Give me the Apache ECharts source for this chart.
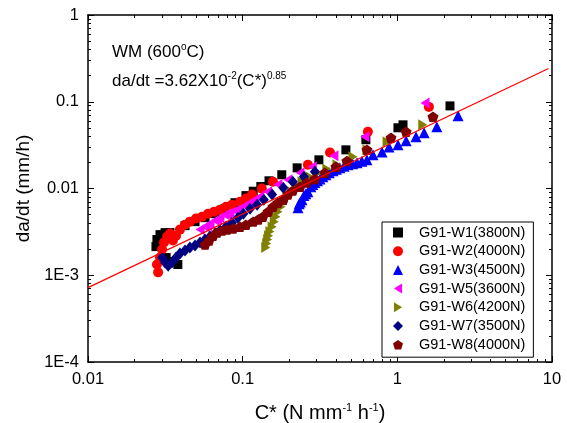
<!DOCTYPE html>
<html><head><meta charset="utf-8">
<script src="https://cdn.jsdelivr.net/npm/echarts@6/dist/echarts.min.js"></script>
<style>html,body{margin:0;padding:0;background:#fff}#c{width:567px;height:423px}</style>
</head><body><div id="c"></div>
<script>
// ---- data ----
const seriesNames = ['G91-W1(3800N)','G91-W2(4000N)','G91-W3(4500N)','G91-W5(3600N)','G91-W6(4200N)','G91-W7(3500N)','G91-W8(4000N)'];
const xMajor = [0.01, 0.1, 1, 10];
const xLabels = ['0.01', '0.1', '1', '10'];
const yMajor = [0.0001, 0.001, 0.01, 0.1, 1];
const yLabels = ['1E-4', '1E-3', '0.01', '0.1', '1'];

const w1 = [[0.0275,0.00214],[0.0279,0.00258],[0.0292,0.00294],[0.0315,0.00310],[0.0339,0.00310],[0.0320,0.00160],[0.0349,0.00144],[0.0381,0.00133],[0.0424,0.00373],[0.0492,0.00415],[0.0571,0.00461],[0.0663,0.00512],[0.0769,0.00585],[0.0892,0.00686],[0.105,0.00828],[0.117,0.0093],[0.131,0.01053],[0.148,0.01227],[0.179,0.0144],[0.225,0.0173],[0.311,0.0214],[0.465,0.0279],[0.626,0.0365],[1.009,0.0501],[1.088,0.0542],[2.19,0.0896]];
const w2 = [[0.0284,0.00108],[0.0279,0.00133],[0.0292,0.00160],[0.0301,0.00198],[0.0310,0.00238],[0.0325,0.00279],[0.0339,0.00302],[0.0354,0.00251],[0.0371,0.00286],[0.0393,0.00336],[0.0424,0.00383],[0.0456,0.00415],[0.0499,0.00450],[0.0546,0.00473],[0.0597,0.00512],[0.0653,0.00540],[0.0713,0.00570],[0.0781,0.00617],[0.0853,0.00651],[0.0961,0.00703],[0.105,0.00766],[0.115,0.0085],[0.133,0.00997],[0.157,0.0120],[0.264,0.0188],[0.367,0.0260],[0.645,0.0450],[1.60,0.0872]];
const w3 = [[0.228,0.00601],[0.232,0.00668],[0.236,0.0070],[0.242,0.00743],[0.249,0.00828],[0.256,0.0087],[0.264,0.0092],[0.276,0.0105],[0.284,0.0111],[0.293,0.0117],[0.304,0.0123],[0.316,0.0129],[0.330,0.0137],[0.345,0.0144],[0.363,0.0152],[0.384,0.0160],[0.404,0.0167],[0.425,0.0173],[0.452,0.0181],[0.480,0.0188],[0.514,0.0193],[0.549,0.0198],[0.590,0.0206],[0.636,0.0214],[0.696,0.0245],[0.796,0.0264],[0.883,0.0301],[1.01,0.0319],[1.14,0.0355],[1.32,0.0395],[1.49,0.0440],[1.80,0.0514],[2.47,0.0688]];
const w5 = [[0.0530,0.00336],[0.0571,0.00363],[0.0592,0.00372],[0.0615,0.00395],[0.0663,0.00427],[0.0688,0.00440],[0.0713,0.00461],[0.0769,0.00499],[0.0798,0.00505],[0.0828,0.00526],[0.0892,0.00555],[0.0925,0.00565],[0.0961,0.00585],[0.1035,0.00633],[0.1075,0.00655],[0.1115,0.00686],[0.120,0.00743],[0.129,0.00806],[0.145,0.0092],[0.169,0.0111],[0.196,0.0126],[0.235,0.0152],[0.282,0.0178],[0.389,0.0238],[0.617,0.0395],[1.51,0.0969]];
const w6 = [[0.141,0.00209],[0.143,0.00232],[0.145,0.00258],[0.147,0.00286],[0.150,0.00319],[0.155,0.00363],[0.160,0.00415],[0.164,0.00473],[0.169,0.00540],[0.177,0.00617],[0.185,0.00703],[0.196,0.00806],[0.208,0.0092],[0.225,0.0108],[0.242,0.0120],[0.272,0.0137],[0.306,0.0152],[0.350,0.0168],[0.407,0.0188],[0.516,0.0232],[0.636,0.0279],[0.858,0.0345],[1.46,0.0542]];
const w7 = [[0.0301,0.00160],[0.0315,0.00140],[0.0330,0.00129],[0.0349,0.00140],[0.0371,0.00160],[0.0393,0.00178],[0.0424,0.00193],[0.0456,0.00209],[0.0492,0.00220],[0.0530,0.00238],[0.0571,0.00258],[0.0615,0.00279],[0.0663,0.00302],[0.0713,0.00327],[0.0781,0.00363],[0.0853,0.00403],[0.0932,0.00461],[0.101,0.00512],[0.1115,0.00585],[0.124,0.00651],[0.137,0.00743],[0.155,0.0085],[0.183,0.0102],[0.211,0.0120],[0.249,0.0137],[0.293,0.0156]];
const w8 = [[0.0571,0.00226],[0.0606,0.00251],[0.0643,0.00286],[0.0683,0.00310],[0.0735,0.00327],[0.0792,0.00336],[0.0866,0.00345],[0.0961,0.00363],[0.105,0.00383],[0.117,0.00415],[0.126,0.00438],[0.135,0.00473],[0.146,0.00540],[0.157,0.00617],[0.169,0.00686],[0.183,0.00743],[0.196,0.0085],[0.211,0.00945],[0.235,0.0105],[0.260,0.0117],[0.293,0.0129],[0.340,0.0152],[0.401,0.0178],[0.472,0.0208],[0.636,0.0279],[0.910,0.0385],[1.14,0.0451],[1.70,0.0670]];
const fitLine = [[0.01,0.00072],[9.5,0.242]];

// ---- chart ----
const F = 'Liberation Sans, Arial, sans-serif';
function minors(m){const o=[];for(let i=0;i<m.length-1;i++){for(let k=2;k<=9;k++)o.push(+(m[i]*k).toPrecision(3));}return o;}
function lab(majors, labels){return v=>{const i=majors.findIndex(m=>Math.abs(m-v)/m<1e-6);return i>=0?labels[i]:'';};}
const lineOn = {show:true, onZero:false, lineStyle:{color:'#000', width:1.5}};
const lineOff = {show:false};
function ax(pos, isX, major, vals, len, showLine, showLabel, extra){
  const majors = isX ? xMajor : yMajor;
  const o = Object.assign({
    type:'log', logBase:10, position:pos, gridIndex:0,
    min: majors[0], max: majors[majors.length-1],
    axisLine: showLine ? lineOn : lineOff,
    axisTick:{show:true, inside:true, length:len, customValues:vals, lineStyle:{color:'#000', width:1}},
    minorTick:{show:false},
    splitLine:{show:false},
    axisLabel: showLabel ? {show:true, customValues:major, formatter: lab(majors, isX?xLabels:yLabels), color:'#000', fontSize:16.5, fontFamily:F, margin:9} : {show:false}
  }, extra||{});
  return o;
}
const xAxes = [
  ax('bottom', true, xMajor, xMajor, 6, true, true, {
    name:'{n|C* (N mm}{s|-1}{n| h}{s|-1}{n|)}', nameLocation:'middle', nameGap:40,
    nameTextStyle:{rich:{n:{fontSize:20,fontFamily:F,color:'#000',lineHeight:22},s:{fontSize:11,fontFamily:F,color:'#000',lineHeight:11,verticalAlign:'top'}}}
  }),
  ax('bottom', true, null, minors(xMajor), 3, false, false),
  ax('top', true, null, xMajor, 6, true, false),
  ax('top', true, null, minors(xMajor), 3, false, false)
];
const yAxes = [
  ax('left', false, yMajor, yMajor, 6, true, true, {
    name:'da/dt (mm/h)', nameLocation:'middle', nameGap:53,
    nameTextStyle:{fontSize:19,fontFamily:F,color:'#000'}
  }),
  ax('left', false, null, minors(yMajor), 3, false, false),
  ax('right', false, null, yMajor, 6, true, false),
  ax('right', false, null, minors(yMajor), 3, false, false)
];
const pent = 'path://M0,-1L0.951,-0.309L0.588,0.809L-0.588,0.809L-0.951,-0.309Z';
const triLeft = 'path://M10,0L1,5.5L10,11Z';
const triRight = 'path://M0,0L9,5.5L0,11Z';
const styles = [
  {data:w1, color:'#000000', symbol:'rect', size:9},
  {data:w2, color:'#ff0000', symbol:'circle', size:10},
  {data:w3, color:'#0000ff', symbol:'triangle', size:11},
  {data:w5, color:'#ff00ff', symbol:triLeft, size:11},
  {data:w6, color:'#808000', symbol:triRight, size:11},
  {data:w7, color:'#000080', symbol:'diamond', size:[10,12]},
  {data:w8, color:'#800000', symbol:pent, size:11}
];
const series = styles.map((s,i)=>({
  type:'scatter', name:seriesNames[i], data:s.data, xAxisIndex:0, yAxisIndex:0,
  symbol:s.symbol, symbolSize:s.size, symbolKeepAspect:true,
  itemStyle:{color:s.color, opacity:1}
}));
series.push({type:'line', name:'fit', data:fitLine, xAxisIndex:0, yAxisIndex:0, showSymbol:false, symbol:'none',
  lineStyle:{color:'#ff0000', width:1.2}, z:5, silent:true});

const chart = echarts.init(document.getElementById('c'), null, {renderer:'canvas'});
chart.setOption({
  animation:false,
  backgroundColor:'#fff',
  grid:{left:88, top:15, width:464, height:347, containLabel:false, outerBoundsMode:'none'},
  xAxis:xAxes, yAxis:yAxes,
  legend:{orient:'vertical', left:382, top:222, padding:[3,8,5,11], itemGap:3.7, itemWidth:10, itemHeight:10,
    borderColor:'#000', borderWidth:1, backgroundColor:'#fff', selectedMode:false, data:seriesNames,
    formatter: n => '{a|' + n + '}',
    textStyle:{fontSize:14.5, fontFamily:F, color:'#000', lineHeight:14,
      rich:{a:{fontSize:14.5, fontFamily:F, color:'#000', lineHeight:14, padding:[0,0,0,11]}}}},
  graphic:[
    {type:'text', left:112, top:42, style:{text:'{n|WM (600}{s|o}{n|C)}',
      rich:{n:{fontSize:17,fontFamily:F,fill:'#000',lineHeight:21}, s:{fontSize:10,fontFamily:F,fill:'#000',lineHeight:10,verticalAlign:'top'}}}},
    {type:'text', left:112, top:71, style:{text:'{n|da/dt =3.62X10}{s|-2}{n|(C*)}{s|0.85}',
      rich:{n:{fontSize:17,fontFamily:F,fill:'#000',lineHeight:21}, s:{fontSize:10,fontFamily:F,fill:'#000',lineHeight:10,verticalAlign:'top'}}}}
  ],
  series:series
});
</script></body></html>
